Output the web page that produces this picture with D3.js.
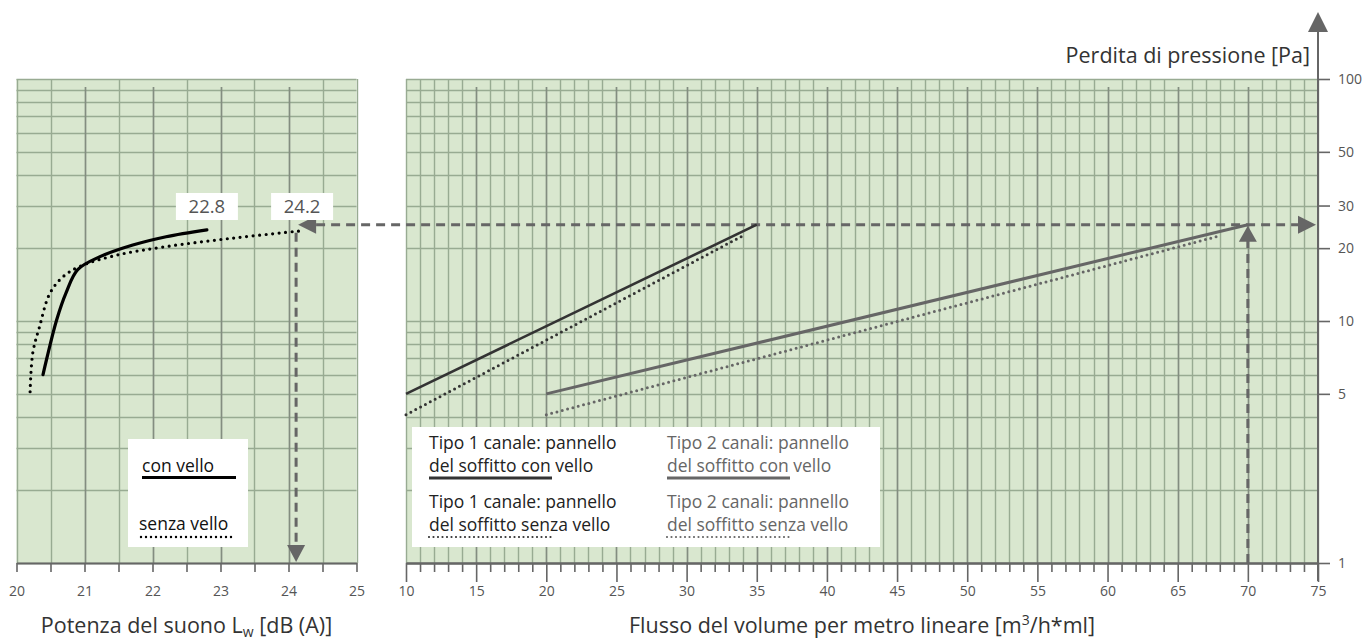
<!DOCTYPE html>
<html>
<head>
<meta charset="utf-8">
<script src="https://cdn.jsdelivr.net/npm/d3@7"></script>
<style>
  html, body { margin: 0; padding: 0; background: #fff; }
  svg { display: block; }
  text { font-family: "Open Sans", "DejaVu Sans", sans-serif; }
</style>
</head>
<body>
<svg id="chart" width="1366" height="641"></svg>
<script>
// ---- data ----
const dbTicks = [20, 21, 22, 23, 24, 25];
const flowTicks = [10, 15, 20, 25, 30, 35, 40, 45, 50, 55, 60, 65, 70, 75];
const paTicks = [1, 5, 10, 20, 30, 50, 100];

// sound power vs pressure loss (left panel)
const conVelloDb   = [20.39, 20.44, 20.59, 20.73, 20.90, 21.22, 21.71, 22.20, 22.8];
const conVelloPa   = [6.0,   6.9,   10.1,  13.1,  16.3,  18.4,  20.6,  22.3,  23.8];
const senzaVelloDb = [20.2, 20.24, 20.34, 20.49, 20.68, 20.93, 21.47, 22.20, 23.18, 24.2];
const senzaVelloPa = [5.1,  7.4,   9.5,   13.0,  15.2,  16.8,  18.7,  20.3,  22.0,  23.6];

// flow per linear metre vs pressure loss (right panel)
const tipo1ConFlow   = [10, 35];
const tipo1ConPa     = [5.0, 25];
const tipo1SenzaFlow = [10, 34];
const tipo1SenzaPa   = [4.1, 22.5];
const tipo2ConFlow   = [20, 70];
const tipo2ConPa     = [5.0, 25];
const tipo2SenzaFlow = [20, 68];
const tipo2SenzaPa   = [4.1, 22.5];

// reading example
const examplePa = 25;
const exampleFlow = 70;
const exampleDb = 24.2;
const endLabels = ["22.8", "24.2"];
const endLabelDb = [22.8, 24.2];

// ---- layout ----
const svg = d3.select("#chart");
const plotTop = 79, plotBottom = 563;
const leftPanel = { x0: 16.5, x1: 356.5 };
const rightPanel = { x0: 406, x1: 1318 };

const y = d3.scaleLog().domain([1, 100]).range([plotBottom, plotTop]);
const xDb = d3.scaleLinear().domain([20, 25]).range([leftPanel.x0, leftPanel.x1]);
const xFlow = d3.scaleLinear().domain([10, 75]).range([rightPanel.x0, rightPanel.x1]);

const BG = "#d9e7cf", GRID = "#98ab92", GRID_MAJOR = "#838d80", AXIS = "#666";

const yGridVals = d3.range(1, 10).concat(d3.range(10, 101, 10));

function drawGrid(x, minorVals, isMajor) {
  const g = svg.append("g");
  const [x0, x1] = x.range();
  g.append("rect").attr("x", x0).attr("y", plotTop).attr("width", x1 - x0).attr("height", plotBottom - plotTop)
    .attr("fill", BG);
  g.selectAll("line.h").data(yGridVals).join("line")
    .attr("x1", x0).attr("x2", x1)
    .attr("y1", d => Math.round(y(d)) + 0.5).attr("y2", d => Math.round(y(d)) + 0.5)
    .attr("stroke", GRID).attr("stroke-width", 1.4);
  g.selectAll("line.v").data(minorVals).join("line")
    .attr("x1", d => Math.round(x(d)) + 0.5).attr("x2", d => Math.round(x(d)) + 0.5)
    .attr("y1", d => isMajor(d) ? plotTop + 8 : plotTop).attr("y2", plotBottom)
    .attr("stroke", d => isMajor(d) ? GRID_MAJOR : GRID)
    .attr("stroke-width", d => isMajor(d) ? 1.7 : 1.4);
  return g;
}

const dbMinor = d3.range(20, 25.01, 0.5);
const flowMinor = d3.range(10, 75.01, 1);
drawGrid(xDb, dbMinor, d => Math.abs(d - Math.round(d)) < 1e-6 && d > 20 && d < 25);
drawGrid(xFlow, flowMinor, d => d % 5 === 0 && d > 10 && d < 75);

// ---- bottom axes ----
function styleAxis(g) {
  g.select(".domain").attr("stroke", AXIS).attr("stroke-width", 2);
  g.selectAll(".tick line").attr("stroke", AXIS).attr("stroke-width", 1.6);
  g.selectAll(".tick text").attr("fill", "#555").attr("font-size", 14);
}
svg.append("g").attr("transform", `translate(0,${plotBottom})`)
  .call(d3.axisBottom(xDb).tickValues(dbMinor).tickSize(9).tickSizeOuter(0)
    .tickFormat(d => dbTicks.includes(d) ? d : "").tickPadding(14))
  .call(styleAxis);

svg.append("g").attr("transform", `translate(0,${plotBottom})`)
  .call(d3.axisBottom(xFlow).tickValues(flowMinor.filter(d => d % 5 !== 0)).tickSize(9)
    .tickSizeOuter(0).tickFormat(""))
  .call(styleAxis);
svg.append("g").attr("transform", `translate(0,${plotBottom})`)
  .call(d3.axisBottom(xFlow).tickValues(flowTicks).tickSize(19).tickSizeOuter(0).tickPadding(4))
  .call(styleAxis);

// ---- right (pressure) axis ----
const yAxisG = svg.append("g").attr("transform", `translate(${rightPanel.x1},0)`)
  .call(d3.axisRight(y).tickValues(paTicks).tickSize(12).tickPadding(8)
    .tickFormat(d3.format("d")).tickSizeOuter(0));
yAxisG.select(".domain").remove();
yAxisG.selectAll(".tick line").attr("stroke", AXIS).attr("stroke-width", 1.6);
yAxisG.selectAll(".tick text").attr("fill", "#555").attr("font-size", 14);

svg.append("line").attr("x1", rightPanel.x1).attr("x2", rightPanel.x1)
  .attr("y1", plotBottom + 18).attr("y2", 30).attr("stroke", AXIS).attr("stroke-width", 2);
svg.append("path")
  .attr("d", `M${rightPanel.x1 - 10},32 L${rightPanel.x1},12 L${rightPanel.x1 + 10},32 Z`)
  .attr("fill", AXIS);

// ---- axis titles ----
const TITLE = 21.5;
svg.append("text").attr("x", 1310).attr("y", 63).attr("text-anchor", "end")
  .attr("font-size", TITLE).attr("fill", "#333").text("Perdita di pressione [Pa]");

const t1 = svg.append("text").attr("x", (leftPanel.x0 + leftPanel.x1) / 2).attr("y", 633)
  .attr("text-anchor", "middle").attr("font-size", TITLE).attr("fill", "#333");
t1.append("tspan").text("Potenza del suono L");
t1.append("tspan").attr("font-size", 14).attr("dy", 4).text("w");
t1.append("tspan").attr("dy", -4).text(" [dB (A)]");

const t2 = svg.append("text").attr("x", (rightPanel.x0 + rightPanel.x1) / 2).attr("y", 633)
  .attr("text-anchor", "middle").attr("font-size", TITLE).attr("fill", "#333");
t2.append("tspan").text("Flusso del volume per metro lineare [m");
t2.append("tspan").attr("font-size", 14).attr("dy", -8).text("3");
t2.append("tspan").attr("dy", 8).text("/h*ml]");

// ---- reading example guides ----
const guide = { stroke: AXIS, width: 3, dash: "9,6" };
const yEx = y(examplePa);
svg.append("line")
  .attr("x1", xDb(exampleDb) + 14).attr("x2", rightPanel.x1 - 18)
  .attr("y1", yEx).attr("y2", yEx)
  .attr("stroke", guide.stroke).attr("stroke-width", guide.width).attr("stroke-dasharray", guide.dash);
// arrow pointing left into the sound panel
svg.append("path")
  .attr("d", `M${xDb(exampleDb) - 4},${yEx} L${xDb(exampleDb) + 14},${yEx - 9} L${xDb(exampleDb) + 14},${yEx + 9} Z`)
  .attr("fill", AXIS);
// arrow pointing right to the pressure axis
svg.append("path")
  .attr("d", `M${rightPanel.x1 - 2},${yEx} L${rightPanel.x1 - 20},${yEx - 9} L${rightPanel.x1 - 20},${yEx + 9} Z`)
  .attr("fill", AXIS);
// vertical drop in the sound panel
svg.append("line")
  .attr("x1", xDb(exampleDb) - 6).attr("x2", xDb(exampleDb) - 6)
  .attr("y1", yEx + 8).attr("y2", plotBottom - 16)
  .attr("stroke", guide.stroke).attr("stroke-width", guide.width).attr("stroke-dasharray", guide.dash);
svg.append("path")
  .attr("d", `M${xDb(exampleDb) - 15},${plotBottom - 18} L${xDb(exampleDb) + 3},${plotBottom - 18} L${xDb(exampleDb) - 6},${plotBottom - 1} Z`)
  .attr("fill", AXIS);
// vertical rise in the flow panel
svg.append("line")
  .attr("x1", xFlow(exampleFlow)).attr("x2", xFlow(exampleFlow))
  .attr("y1", plotBottom).attr("y2", yEx + 16)
  .attr("stroke", guide.stroke).attr("stroke-width", guide.width).attr("stroke-dasharray", guide.dash);
svg.append("path")
  .attr("d", `M${xFlow(exampleFlow) - 9},${yEx + 17} L${xFlow(exampleFlow)},${yEx + 1} L${xFlow(exampleFlow) + 9},${yEx + 17} Z`)
  .attr("fill", AXIS);

// ---- curves: sound panel ----
const lineDb = d3.line().x(d => xDb(d[0])).y(d => y(d[1])).curve(d3.curveCatmullRom.alpha(0.5));
svg.append("path").datum(d3.zip(conVelloDb, conVelloPa)).attr("d", lineDb)
  .attr("fill", "none").attr("stroke", "#000").attr("stroke-width", 3.2).attr("stroke-linecap", "round");
svg.append("path").datum(d3.zip(senzaVelloDb, senzaVelloPa)).attr("d", lineDb)
  .attr("fill", "none").attr("stroke", "#000").attr("stroke-width", 3.2)
  .attr("stroke-linecap", "round").attr("stroke-dasharray", "0,6.5");

// end value labels
const lbl = svg.append("g");
endLabels.forEach((t, i) => {
  const cx = xDb(endLabelDb[i]);
  lbl.append("rect").attr("x", cx - 31).attr("y", 193).attr("width", 62).attr("height", 27).attr("fill", "#fff");
  lbl.append("text").attr("x", cx).attr("y", 213).attr("text-anchor", "middle")
    .attr("font-size", 18.5).attr("fill", "#555").text(t);
});

// ---- lines: flow panel ----
const lineFlow = d3.line().x(d => xFlow(d[0])).y(d => y(d[1]));
const flowSeries = [
  { f: tipo1ConFlow, p: tipo1ConPa, color: "#333", w: 2.6, dash: null },
  { f: tipo1SenzaFlow, p: tipo1SenzaPa, color: "#333", w: 3, dash: "0,5.5" },
  { f: tipo2ConFlow, p: tipo2ConPa, color: "#666", w: 3, dash: null },
  { f: tipo2SenzaFlow, p: tipo2SenzaPa, color: "#666", w: 3, dash: "0,5.5" }
];
flowSeries.forEach(s => {
  svg.append("path").datum(d3.zip(s.f, s.p)).attr("d", lineFlow)
    .attr("fill", "none").attr("stroke", s.color).attr("stroke-width", s.w)
    .attr("stroke-linecap", s.dash ? "round" : "butt")
    .attr("stroke-dasharray", s.dash);
});

// ---- legends ----
const LEG = 17.5;
const legL = svg.append("g");
legL.append("rect").attr("x", 128).attr("y", 439).attr("width", 120).attr("height", 108).attr("fill", "#fff");
legL.append("text").attr("x", 142).attr("y", 472).attr("font-size", LEG).attr("fill", "#111").text("con vello");
legL.append("line").attr("x1", 142).attr("x2", 236).attr("y1", 477.5).attr("y2", 477.5)
  .attr("stroke", "#000").attr("stroke-width", 3);
legL.append("text").attr("x", 139).attr("y", 530).attr("font-size", LEG).attr("fill", "#111").text("senza vello");
legL.append("line").attr("x1", 141).attr("x2", 232).attr("y1", 537).attr("y2", 537)
  .attr("stroke", "#000").attr("stroke-width", 2.4).attr("stroke-linecap", "round").attr("stroke-dasharray", "0,5");

const legR = svg.append("g");
legR.append("rect").attr("x", 412).attr("y", 427).attr("width", 468).attr("height", 120).attr("fill", "#fff");
const legItems = [
  { x: 429, y: 449, l1: "Tipo 1 canale: pannello", l2: "del soffitto con vello", color: "#333", dash: null, len: 123 },
  { x: 429, y: 508, l1: "Tipo 1 canale: pannello", l2: "del soffitto senza vello", color: "#333", dash: "0,4.5", len: 123 },
  { x: 667, y: 449, l1: "Tipo 2 canali: pannello", l2: "del soffitto con vello", color: "#666", dash: null, len: 123 },
  { x: 667, y: 508, l1: "Tipo 2 canali: pannello", l2: "del soffitto senza vello", color: "#666", dash: "0,4.5", len: 123 }
];
legItems.forEach(it => {
  const tc = it.color === "#333" ? "#222" : "#666";
  legR.append("text").attr("x", it.x).attr("y", it.y).attr("font-size", LEG).attr("fill", tc).text(it.l1);
  legR.append("text").attr("x", it.x).attr("y", it.y + 23).attr("font-size", LEG).attr("fill", tc).text(it.l2);
  legR.append("line").attr("x1", it.x).attr("x2", it.x + it.len)
    .attr("y1", it.y + 29).attr("y2", it.y + 29)
    .attr("stroke", it.color).attr("stroke-width", it.dash ? 2.2 : 3)
    .attr("stroke-linecap", it.dash ? "round" : "butt")
    .attr("stroke-dasharray", it.dash);
});
</script>
</body>
</html>
